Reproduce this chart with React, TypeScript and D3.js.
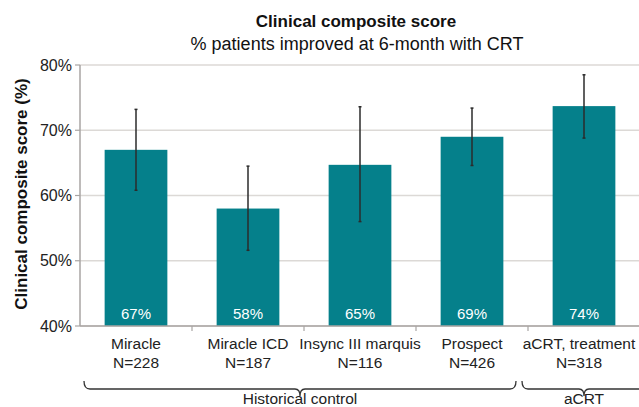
import React from "react";
import * as d3 from "d3";

const categories = ["Miracle", "Miracle ICD", "Insync III marquis", "Prospect", "aCRT, treatment"];
const sampleSizes = ["N=228", "N=187", "N=116", "N=426", "N=318"];
const values = [67, 58, 64.7, 69, 73.7];
const valueLabels = ["67%", "58%", "65%", "69%", "74%"];
const errLow = [60.8, 51.6, 56.0, 64.6, 68.8];
const errHigh = [73.2, 64.5, 73.6, 73.4, 78.5];
const yTicks = [40, 50, 60, 70, 80];
const groupLabels = ["Historical control", "aCRT"];
const groupFrom = [0, 4];
const groupTo = [3, 4];

const W = 639;
const H = 407;
const FONT = "'Liberation Sans', Arial, Helvetica, sans-serif";

export default function App() {
  const x = d3.scaleBand<string>().domain(categories).range([80, 640]).paddingInner(0.44).paddingOuter(0.22);
  const y = d3.scaleLinear().domain([40, 80]).range([326, 65]);
  const bw = x.bandwidth();
  const step = x.step();
  const x0 = 80;
  const teal = "#05808b";

  const bracketY = 389;
  const brackets = groupLabels.map((g, i) => {
    const isLast = groupTo[i] === categories.length - 1;
    const gl = x0 + step * groupFrom[i];
    const gr = x0 + step * (groupTo[i] + 1);
    const left = isLast ? gl - 6 : gl + 4;
    const right = isLast ? gr + 6 : gr - 12;
    const c = (left + right) / 2;
    const top = bracketY - 8;
    const tip = bracketY + 7;
    const p = d3.path();
    p.moveTo(left, top);
    p.quadraticCurveTo(left, bracketY, left + 6, bracketY);
    p.lineTo(c - 5, bracketY);
    p.quadraticCurveTo(c, bracketY, c, tip);
    p.quadraticCurveTo(c, bracketY, c + 5, bracketY);
    p.lineTo(right - 6, bracketY);
    p.quadraticCurveTo(right, bracketY, right, top);
    return { d: p.toString(), c, label: g };
  });

  return (
    <svg width={W} height={H} style={{ position: "absolute", left: 0, top: 0, background: "#fff" }} fontFamily={FONT}>
      <text x={356} y={27} textAnchor="middle" fontSize={17} fontWeight="bold" fill="#111">
        Clinical composite score
      </text>
      <text x={357} y={50} textAnchor="middle" fontSize={18} fill="#111">
        % patients improved at 6-month with CRT
      </text>

      {/* gridlines */}
      {yTicks.map((t) => (
        <line key={"g" + t} x1={80} x2={W} y1={y(t)} y2={y(t)} stroke="#dcd9d6" strokeWidth={1.5} />
      ))}
      {/* y axis */}
      <line x1={80} x2={80} y1={y(80)} y2={y(40)} stroke="#a8a5a3" strokeWidth={1.5} />
      {yTicks.map((t) => (
        <g key={"t" + t}>
          <line x1={75} x2={80} y1={y(t)} y2={y(t)} stroke="#a8a5a3" strokeWidth={1.2} />
          <text x={72} y={y(t) + 5.5} textAnchor="end" fontSize={16} fill="#222">
            {t}%
          </text>
        </g>
      ))}
      <text
        transform={`translate(27, 194) rotate(-90)`}
        textAnchor="middle"
        fontSize={17}
        fontWeight="bold"
        fill="#111"
      >
        Clinical composite score (%)
      </text>

      {/* bars */}
      {categories.map((c, i) => (
        <rect key={"b" + c} x={x(c)} y={y(values[i])} width={bw} height={y(40) - y(values[i])} fill={teal} />
      ))}
      {/* error bars */}
      {categories.map((c, i) => {
        const cx = (x(c) as number) + bw / 2;
        return (
          <g key={"e" + c} stroke="#2b2b2b">
            <line x1={cx} x2={cx} y1={y(errHigh[i])} y2={y(errLow[i])} strokeWidth={1.5} />
            <line x1={cx - 1.5} x2={cx + 1.5} y1={y(errHigh[i])} y2={y(errHigh[i])} strokeWidth={1.5} />
            <line x1={cx - 1.5} x2={cx + 1.5} y1={y(errLow[i])} y2={y(errLow[i])} strokeWidth={1.5} />
          </g>
        );
      })}
      {/* value labels */}
      {categories.map((c, i) => (
        <text key={"v" + c} x={(x(c) as number) + bw / 2} y={319} textAnchor="middle" fontSize={15} fill="#fff">
          {valueLabels[i]}
        </text>
      ))}

      {/* x axis */}
      <line x1={80} x2={W} y1={y(40)} y2={y(40)} stroke="#a8a5a3" strokeWidth={1.5} />
      {categories.slice(1).map((c, i) => (
        <line key={"xt" + c} x1={x0 + step * (i + 1)} x2={x0 + step * (i + 1)} y1={y(40)} y2={y(40) + 5} stroke="#a8a5a3" strokeWidth={1.2} />
      ))}
      {categories.map((c, i) => {
        let cx = (x(c) as number) + bw / 2;
        if (i === categories.length - 1) cx -= 5;
        return (
          <g key={"l" + c} fontSize={15.5} fill="#222" textAnchor="middle">
            <text x={cx} y={349}>{c}</text>
            <text x={cx} y={368}>{sampleSizes[i]}</text>
          </g>
        );
      })}

      {/* group brackets */}
      {brackets.map((b) => (
        <g key={"br" + b.label}>
          <path d={b.d} fill="none" stroke="#333" strokeWidth={1.3} />
          <text x={b.c} y={404} textAnchor="middle" fontSize={15.5} fill="#222">
            {b.label}
          </text>
        </g>
      ))}
    </svg>
  );
}
